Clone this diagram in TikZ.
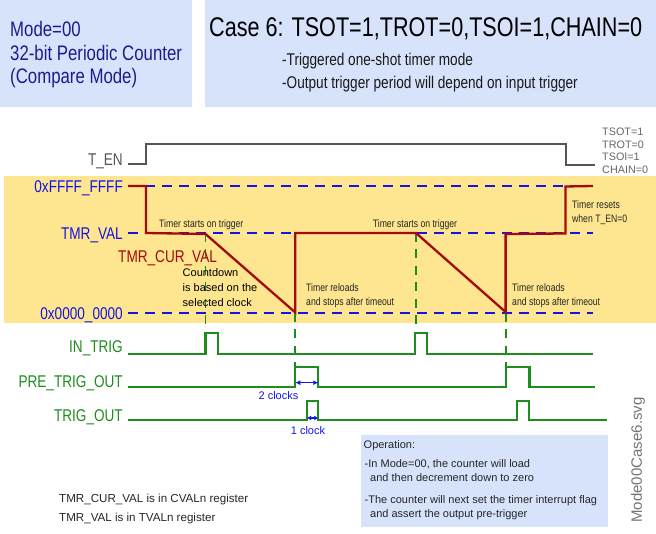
\documentclass[tikz,border=0pt]{standalone}
\usepackage{fontspec}
\setmainfont{Liberation Sans}
\newfontfamily\nar[FakeStretch=0.8]{Liberation Sans}
\usetikzlibrary{arrows.meta}
\definecolor{boxblue}{RGB}{214,227,251}
\definecolor{bandyellow}{RGB}{254,229,143}
\definecolor{navy}{RGB}{28,28,140}
\definecolor{dred}{RGB}{165,10,10}
\definecolor{sgreen}{RGB}{30,140,30}
\definecolor{lblue}{RGB}{20,20,230}
\definecolor{tgray}{RGB}{85,85,85}
\tikzset{
  big/.style={font=\nar\fontsize{21}{24}\selectfont, text=navy, inner sep=0pt},
  ttl/.style={font=\nar\fontsize{27}{30}\selectfont, text=black, inner sep=0pt},
  sub/.style={font=\nar\fontsize{17}{20}\selectfont, text=black!90, inner sep=0pt},
  lab/.style={font=\nar\fontsize{17}{20}\selectfont, inner sep=0pt, anchor=base east},
  ann/.style={font=\nar\fontsize{10.8}{13}\selectfont, text=black!85, inner sep=0pt, anchor=base west},
  reg/.style={font=\fontsize{11}{13}\selectfont, text=black!85, inner sep=0pt, anchor=base west},
  small/.style={font=\fontsize{10.8}{12}\selectfont, text=black!60, inner sep=0pt, anchor=base west},
  blab/.style={font=\fontsize{11}{13}\selectfont, text=lblue, inner sep=0pt, anchor=base},
  lvl/.style={draw=lblue, line width=2.4pt, dash pattern=on 10pt off 7pt},
  gdash/.style={draw=sgreen, line width=1.8pt, dash pattern=on 9pt off 7.5pt},
  sig/.style={draw=sgreen, line width=2.2pt},
  cnt/.style={draw=dred, line width=2.3pt, line join=miter},
  enl/.style={draw=tgray, line width=2pt},
  clk/.style={draw=lblue, line width=1.2pt, {Latex[length=5pt,width=5pt]}-{Latex[length=5pt,width=5pt]}},
}
\begin{document}
\begin{tikzpicture}[x=1pt,y=-1pt]
\useasboundingbox (0,0) rectangle (656,534);
% header boxes
\fill[boxblue] (0,0) rectangle (192,107);
\fill[boxblue] (205,0) rectangle (656,107);
\node[big, anchor=base west] (m1) at (10,36.7) {Mode=00};
\node[big, anchor=base west] (m2) at (10,60.5) {32-bit Periodic Counter};
\node[big, anchor=base west] (m3) at (10,84) {(Compare Mode)};
\node[ttl, anchor=base west] (title) at (209,36.5) {Case 6: TSOT=1,TROT=0,TSOI=1,CHAIN=0};
\node[sub, anchor=base west] (s1) at (282,65.5) {-Triggered one-shot timer mode};
\node[sub, anchor=base west] (s2) at (282,88.5) {-Output trigger period will depend on input trigger};
% yellow band
\fill[bandyellow] (4,176) rectangle (656,323.3);
% T_EN
\node[lab, text=tgray] (ten) at (123,166) {T\_EN};
\draw[enl] (128,164.3) -- (146,164.3) -- (146,144.3) -- (565.7,144.3) -- (565.7,165) -- (595,165);
\node[small] (c1) at (602,136) {TSOT=1};
\node[small] (c2) at (602,148.5) {TROT=0};
\node[small] (c3) at (602,161) {TSOI=1};
\node[small] (c4) at (602,173.5) {CHAIN=0};
% levels
\draw[lvl] (128,186) -- (593,186);
\draw[lvl] (128,233) -- (593,233);
\draw[lvl] (128,313) -- (593,313);
\node[lab, text=lblue] (lff) at (123,192.5) {0xFFFF\_FFFF};
\node[lab, text=lblue] (ltv) at (123,239.5) {TMR\_VAL};
\node[lab, text=lblue] (l00) at (123,319.5) {0x0000\_0000};
% green dashed markers
\draw[gdash] (205.5,233) -- (205.5,333);
\draw[gdash] (295.3,313) -- (295.3,367);
\draw[gdash] (416,233) -- (416,333);
\draw[gdash] (505.6,313) -- (505.6,367);
% counter
\draw[cnt] (128,186) -- (146,186) -- (146,233) -- (205.5,234) -- (295.3,312.5) -- (295.3,233)
  -- (416,233) -- (505.6,312) -- (505.6,234) -- (565.5,233.5) -- (565.5,186.5) -- (593,186);
\node[lab, anchor=base west, text=dred] (lcur) at (118,262.5) {TMR\_CUR\_VAL};
% annotations
\node[ann] (a1) at (159,227.5) {Timer starts on trigger};
\node[ann] (a2) at (372.7,227.5) {Timer starts on trigger};
\node[reg, text=black] (cd1) at (182.5,277) {Countdown};
\node[reg, text=black] (cd2) at (182.5,291.7) {is based on the};
\node[reg, text=black] (cd3) at (182.5,306.5) {selected clock};
\node[ann] (r1a) at (306,291.5) {Timer reloads};
\node[ann] (r1b) at (306,306) {and stops after timeout};
\node[ann] (r2a) at (512,291.5) {Timer reloads};
\node[ann] (r2b) at (512,306) {and stops after timeout};
\node[ann] (t1) at (572,209) {Timer resets};
\node[ann] (t2) at (572,222.5) {when T\_EN=0};
% digital signals
\node[lab, text=sgreen] (lin) at (123,353) {IN\_TRIG};
\node[lab, text=sgreen] (lpre) at (123,388) {PRE\_TRIG\_OUT};
\node[lab, text=sgreen] (lout) at (123,421) {TRIG\_OUT};
\draw[sig] (128,354) -- (205.5,354) -- (205.5,333) -- (218,333) -- (218,354) -- (415,354)
  -- (415,333) -- (427,333) -- (427,354) -- (593,354);
\draw[sig] (128,387) -- (295.3,387) -- (295.3,367) -- (318.3,367) -- (318.3,387) -- (505.6,387)
  -- (505.6,367) -- (529.5,367) -- (529.5,387) -- (595,387);
\draw[sig] (128,420) -- (307,420) -- (307,401) -- (318.3,401) -- (318.3,420) -- (516.7,420)
  -- (516.7,401) -- (529.3,401) -- (529.3,420) -- (606.7,420);
% clock arrows
\coordinate (p1) at (295.3,382.7);
\coordinate (p2) at (318.3,382.7);
\draw[clk] (p1) -- (p2);
\node[blab] (two) at (278.5,400) {2 clocks};
\coordinate (q1) at (307,418);
\coordinate (q2) at (318.3,418);
\draw[draw=lblue, line width=1.2pt, {Latex[length=4pt,width=5pt]}-{Latex[length=4pt,width=5pt]}] (q1) -- (q2);
\node[blab] (one) at (308,435) {1 clock};
% notes
\node[font=\fontsize{11.6}{14}\selectfont, text=black!85, inner sep=0pt, anchor=base west] (n1) at (59,502.7) {TMR\_CUR\_VAL is in CVALn register};
\node[font=\fontsize{11.6}{14}\selectfont, text=black!85, inner sep=0pt, anchor=base west] (n2) at (59,521) {TMR\_VAL is in TVALn register};
% operation box
\fill[boxblue] (361,435) rectangle (608,527);
\node[reg] (o0) at (363.5,448) {Operation:};
\node[reg] (o1) at (364.5,467.5) {-In Mode=00, the counter will load};
\node[reg] (o2) at (370,481.5) {and then decrement down to zero};
\node[reg] (o3) at (364.5,503) {-The counter will next set the timer interrupt flag};
\node[reg] (o4) at (370,517) {and assert the output pre-trigger};
% file name
\node[font=\fontsize{15}{17}\selectfont, text=black!55, inner sep=0pt, rotate=90] (fn) at (638,460) {Mode00Case6.svg};
\end{tikzpicture}
\end{document}
